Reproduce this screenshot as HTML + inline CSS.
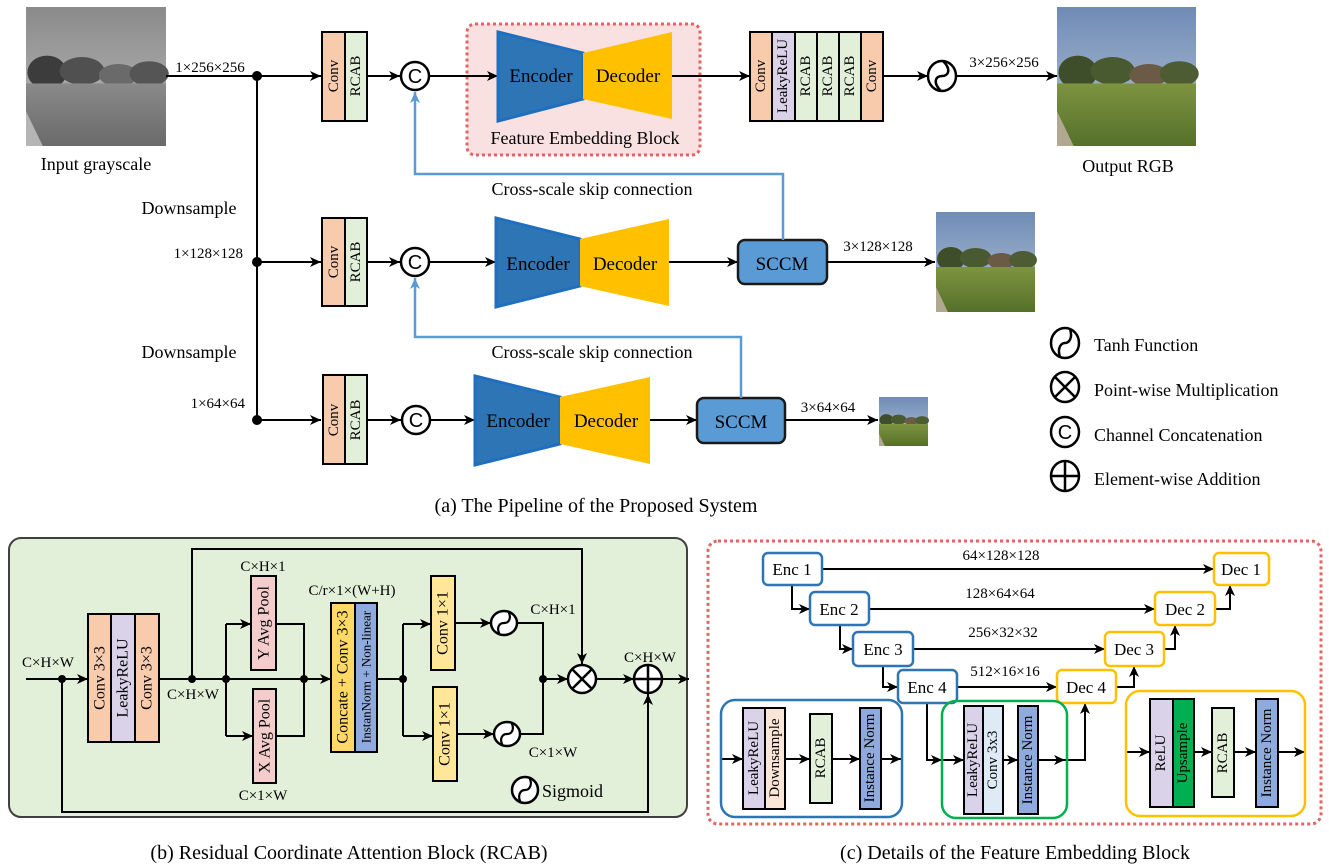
<!DOCTYPE html>
<html><head><meta charset="utf-8"><style>
body{margin:0;background:#fff}
svg{display:block}
text{font-family:"Liberation Serif",serif;fill:#000}
</style></head><body>
<svg width="1329" height="867" viewBox="0 0 1329 867" xmlns="http://www.w3.org/2000/svg">
<defs>
<marker id="a" markerUnits="userSpaceOnUse" markerWidth="12" markerHeight="12" refX="11" refY="6" orient="auto"><path d="M0,1 L11,6 L0,11 L3,6 z" fill="#000"/></marker>
<marker id="b" markerUnits="userSpaceOnUse" markerWidth="12" markerHeight="12" refX="11" refY="6" orient="auto"><path d="M0,1 L11,6 L0,11 L3,6 z" fill="#5b9bd5"/></marker>
<linearGradient id="sky" x1="0" y1="0" x2="0" y2="1"><stop offset="0" stop-color="#6f8bb5"/><stop offset="1" stop-color="#b9c7da"/></linearGradient>
<linearGradient id="field" x1="0" y1="0" x2="0" y2="1"><stop offset="0" stop-color="#7d9440"/><stop offset="1" stop-color="#55702a"/></linearGradient>
<linearGradient id="gsky" x1="0" y1="0" x2="0" y2="1"><stop offset="0" stop-color="#8a8a8a"/><stop offset="1" stop-color="#bdbdbd"/></linearGradient>
<linearGradient id="gfield" x1="0" y1="0" x2="0" y2="1"><stop offset="0" stop-color="#8a8a8a"/><stop offset="1" stop-color="#6a6a6a"/></linearGradient>
<g id="photo">
<rect x="0" y="0" width="100" height="100" fill="url(#sky)"/>
<ellipse cx="15" cy="47" rx="14" ry="12" fill="#3e4d2a"/>
<ellipse cx="40" cy="46" rx="16" ry="10" fill="#4a5a30"/>
<ellipse cx="66" cy="49" rx="14" ry="8" fill="#6b5a45"/>
<ellipse cx="88" cy="48" rx="14" ry="9" fill="#4d5c33"/>
<rect x="0" y="55" width="100" height="45" fill="url(#field)"/>
<path d="M0,75 L12,100 L0,100z" fill="#b0a890"/>
</g>
<g id="gphoto">
<rect x="0" y="0" width="100" height="100" fill="url(#gsky)"/>
<ellipse cx="15" cy="47" rx="14" ry="12" fill="#3c3c3c"/>
<ellipse cx="40" cy="46" rx="16" ry="10" fill="#505050"/>
<ellipse cx="66" cy="49" rx="14" ry="8" fill="#6a6a6a"/>
<ellipse cx="88" cy="48" rx="14" ry="9" fill="#555"/>
<rect x="0" y="55" width="100" height="45" fill="url(#gfield)"/>
<path d="M0,75 L12,100 L0,100z" fill="#b5b5b5"/>
</g>
</defs>

<!-- ===== (a) pipeline ===== -->
<use href="#gphoto" transform="translate(26,7) scale(1.40,1.39)"/>
<text x="96" y="170" font-size="18" text-anchor="middle">Input grayscale</text>
<text x="210" y="72" font-size="15" text-anchor="middle">1×256×256</text>
<line x1="166" y1="76" x2="321" y2="76" stroke="#000" stroke-width="2" marker-end="url(#a)"/>
<line x1="257" y1="76" x2="257" y2="420" stroke="#000" stroke-width="2"/>
<circle cx="257" cy="76" r="5"/><circle cx="257" cy="262" r="5"/><circle cx="257" cy="420" r="5"/>
<text x="189" y="214" font-size="18" text-anchor="middle">Downsample</text>
<text x="189" y="358" font-size="18" text-anchor="middle">Downsample</text>
<text x="243" y="258" font-size="15" text-anchor="end">1×128×128</text>
<text x="245" y="408" font-size="15" text-anchor="end">1×64×64</text>
<line x1="257" y1="262" x2="321" y2="262" stroke="#000" stroke-width="2" marker-end="url(#a)"/>
<line x1="257" y1="420" x2="321" y2="420" stroke="#000" stroke-width="2" marker-end="url(#a)"/>

<g font-size="15" stroke="#000" stroke-width="2">
<rect x="322" y="32" width="23" height="89" fill="#f8cbad"/><rect x="345" y="32" width="22" height="89" fill="#e2f0d9"/>
<rect x="322" y="218" width="23" height="88" fill="#f8cbad"/><rect x="345" y="218" width="22" height="88" fill="#e2f0d9"/>
<rect x="323" y="375" width="22" height="89" fill="#f8cbad"/><rect x="345" y="375" width="22" height="89" fill="#e2f0d9"/>
</g>
<g font-size="15" text-anchor="middle" dominant-baseline="central">
<text transform="translate(334,76) rotate(-90)">Conv</text><text transform="translate(356,76) rotate(-90)">RCAB</text>
<text transform="translate(334,262) rotate(-90)">Conv</text><text transform="translate(356,262) rotate(-90)">RCAB</text>
<text transform="translate(334,420) rotate(-90)">Conv</text><text transform="translate(356,420) rotate(-90)">RCAB</text>
</g>
<g stroke="#000" stroke-width="2">
<line x1="367" y1="76" x2="400" y2="76" marker-end="url(#a)"/>
<line x1="367" y1="262" x2="400" y2="262" marker-end="url(#a)"/>
<line x1="367" y1="420" x2="401" y2="420" marker-end="url(#a)"/>
<circle cx="415" cy="76" r="14" fill="#fff" stroke-width="2.5"/>
<circle cx="415" cy="262" r="14" fill="#fff" stroke-width="2.5"/>
<circle cx="416" cy="420" r="14" fill="#fff" stroke-width="2.5"/>
</g>
<g font-size="20" text-anchor="middle">
<text x="415" y="83" style="font-family:'Liberation Sans',sans-serif">C</text>
<text x="415" y="269" style="font-family:'Liberation Sans',sans-serif">C</text>
<text x="416" y="427" style="font-family:'Liberation Sans',sans-serif">C</text>
</g>

<rect x="467" y="24" width="233" height="131" rx="8" fill="#f9e0e1" stroke="#e06666" stroke-width="3" stroke-dasharray="3,3"/>
<line x1="429" y1="76" x2="498" y2="76" stroke="#000" stroke-width="2" marker-end="url(#a)"/>
<path d="M498,32 L583,53 L583,99 L498,121 Z" fill="#2e75b6" stroke="#1f6fc0" stroke-width="3"/>
<path d="M583,53 L672,32 L672,119 L583,99 Z" fill="#ffc000"/>
<text x="541" y="82" font-size="19" text-anchor="middle">Encoder</text>
<text x="628" y="82" font-size="19" text-anchor="middle">Decoder</text>
<text x="585" y="144" font-size="18" text-anchor="middle">Feature Embedding Block</text>
<line x1="672" y1="76" x2="750" y2="76" stroke="#000" stroke-width="2" marker-end="url(#a)"/>

<line x1="429" y1="262" x2="496" y2="262" stroke="#000" stroke-width="2" marker-end="url(#a)"/>
<path d="M496,218 L580,239 L580,286 L496,307 Z" fill="#2e75b6" stroke="#1f6fc0" stroke-width="3"/>
<path d="M580,239 L669,219 L669,306 L580,286 Z" fill="#ffc000"/>
<text x="538" y="270" font-size="19" text-anchor="middle">Encoder</text>
<text x="625" y="270" font-size="19" text-anchor="middle">Decoder</text>
<line x1="669" y1="262" x2="738" y2="262" stroke="#000" stroke-width="2" marker-end="url(#a)"/>

<line x1="430" y1="420" x2="475" y2="420" stroke="#000" stroke-width="2" marker-end="url(#a)"/>
<path d="M475,376 L560,397 L560,444 L475,465 Z" fill="#2e75b6" stroke="#1f6fc0" stroke-width="3"/>
<path d="M560,397 L650,377 L650,464 L560,444 Z" fill="#ffc000"/>
<text x="518" y="427" font-size="19" text-anchor="middle">Encoder</text>
<text x="606" y="427" font-size="19" text-anchor="middle">Decoder</text>
<line x1="650" y1="420" x2="697" y2="420" stroke="#000" stroke-width="2" marker-end="url(#a)"/>

<g stroke="#000" stroke-width="2">
<rect x="750" y="32" width="22" height="89" fill="#f8cbad"/>
<rect x="772" y="32" width="23" height="89" fill="#d9d2e9"/>
<rect x="795" y="32" width="22" height="89" fill="#e2f0d9"/>
<rect x="817" y="32" width="22" height="89" fill="#e2f0d9"/>
<rect x="839" y="32" width="22" height="89" fill="#e2f0d9"/>
<rect x="861" y="32" width="22" height="89" fill="#f8cbad"/>
</g>
<g font-size="15" text-anchor="middle" dominant-baseline="central">
<text transform="translate(761,76) rotate(-90)">Conv</text>
<text transform="translate(783,76) rotate(-90)">LeakyReLU</text>
<text transform="translate(806,76) rotate(-90)">RCAB</text>
<text transform="translate(828,76) rotate(-90)">RCAB</text>
<text transform="translate(850,76) rotate(-90)">RCAB</text>
<text transform="translate(872,76) rotate(-90)">Conv</text>
</g>
<line x1="883" y1="76" x2="928" y2="76" stroke="#000" stroke-width="2" marker-end="url(#a)"/>
<ellipse cx="942" cy="76" rx="14" ry="15" fill="#fff" stroke="#000" stroke-width="2.5"/>
<path d="M941,91 C932,82 936,76 942,76 C948,76 952,70 943,61" fill="none" stroke="#000" stroke-width="2.5"/>
<line x1="956" y1="76" x2="1057" y2="76" stroke="#000" stroke-width="2" marker-end="url(#a)"/>
<text x="1004" y="67" font-size="15" text-anchor="middle">3×256×256</text>
<use href="#photo" transform="translate(1057,7) scale(1.39,1.39)"/>
<text x="1128" y="172" font-size="18" text-anchor="middle">Output RGB</text>

<rect x="738" y="240" width="89" height="44" rx="7" fill="#5b9bd5" stroke="#1a1a1a" stroke-width="2.5"/>
<text x="782" y="270" font-size="19" text-anchor="middle">SCCM</text>
<line x1="827" y1="262" x2="935" y2="262" stroke="#000" stroke-width="2" marker-end="url(#a)"/>
<text x="878" y="251" font-size="15" text-anchor="middle">3×128×128</text>
<use href="#photo" transform="translate(936,212) scale(0.99,1.0)"/>
<rect x="697" y="398" width="88" height="45" rx="7" fill="#5b9bd5" stroke="#1a1a1a" stroke-width="2.5"/>
<text x="741" y="428" font-size="19" text-anchor="middle">SCCM</text>
<line x1="785" y1="420" x2="878" y2="420" stroke="#000" stroke-width="2" marker-end="url(#a)"/>
<text x="828" y="412" font-size="15" text-anchor="middle">3×64×64</text>
<use href="#photo" transform="translate(879,397) scale(0.49,0.49)"/>

<path d="M783,240 L783,174 L415,174 L415,92" fill="none" stroke="#5b9bd5" stroke-width="2.5" marker-end="url(#b)"/>
<path d="M741,398 L741,337 L415,337 L415,278" fill="none" stroke="#5b9bd5" stroke-width="2.5" marker-end="url(#b)"/>
<text x="592" y="195" font-size="18" text-anchor="middle">Cross-scale skip connection</text>
<text x="592" y="358" font-size="18" text-anchor="middle">Cross-scale skip connection</text>

<g stroke="#000" stroke-width="2.5" fill="#fff">
<ellipse cx="1065" cy="343" rx="14" ry="15"/>
<ellipse cx="1065" cy="387" rx="14" ry="15"/>
<ellipse cx="1065" cy="432" rx="14" ry="15"/>
<ellipse cx="1065" cy="476" rx="14" ry="15"/>
</g>
<path d="M1060,357 C1057,348 1061,343 1065,343 C1069,343 1073,338 1070,329" fill="none" stroke="#000" stroke-width="2.5"/>
<path d="M1055,377 L1075,397 M1075,377 L1055,397" stroke="#000" stroke-width="2.5"/>
<text x="1065" y="439" font-size="20" text-anchor="middle" style="font-family:'Liberation Sans',sans-serif">C</text>
<path d="M1051,476 L1079,476 M1065,461 L1065,491" stroke="#000" stroke-width="2.5"/>
<g font-size="18">
<text x="1094" y="351">Tanh Function</text>
<text x="1094" y="396">Point-wise Multiplication</text>
<text x="1094" y="441">Channel Concatenation</text>
<text x="1094" y="485">Element-wise Addition</text>
</g>
<text x="596" y="512" font-size="20" text-anchor="middle">(a) The Pipeline of the Proposed System</text>

<!-- ===== (b) RCAB ===== -->
<rect x="9" y="538" width="678" height="279" rx="12" fill="#e2efd9" stroke="#404040" stroke-width="2"/>
<g stroke="#000" stroke-width="2" fill="none">
<line x1="26" y1="679" x2="88" y2="679" marker-end="url(#a)"/>
<path d="M62,679 L62,812 L648,812 L648,694" marker-end="url(#a)"/>
<line x1="159" y1="679" x2="331" y2="679" marker-end="url(#a)"/>
<path d="M192,679 L192,549 L582,549 L582,664" marker-end="url(#a)"/>
<path d="M226,624 L226,736"/>
<line x1="226" y1="624" x2="251" y2="624" marker-end="url(#a)"/>
<line x1="226" y1="736" x2="253" y2="736" marker-end="url(#a)"/>
<path d="M276,624 L304,624 L304,736 L276,736"/>
<line x1="377" y1="679" x2="403" y2="679"/>
<path d="M403,624 L403,736"/>
<line x1="403" y1="624" x2="431" y2="624" marker-end="url(#a)"/>
<line x1="403" y1="736" x2="433" y2="736" marker-end="url(#a)"/>
<line x1="455" y1="623" x2="491" y2="623" marker-end="url(#a)"/>
<line x1="457" y1="734" x2="494" y2="734" marker-end="url(#a)"/>
<path d="M517,623 L543,623 L543,734 L520,734"/>
<line x1="543" y1="679" x2="568" y2="679" marker-end="url(#a)"/>
<line x1="596" y1="679" x2="634" y2="679" marker-end="url(#a)"/>
<line x1="662" y1="679" x2="689" y2="679" marker-end="url(#a)"/>
</g>
<g fill="#000"><circle cx="62" cy="679" r="4"/><circle cx="192" cy="679" r="4"/><circle cx="226" cy="679" r="4"/><circle cx="304" cy="679" r="4"/><circle cx="403" cy="679" r="4"/><circle cx="543" cy="679" r="4"/></g>
<g stroke="#000" stroke-width="2">
<rect x="88" y="614" width="23" height="128" fill="#f8cbad"/>
<rect x="111" y="614" width="24" height="128" fill="#d9d2e9"/>
<rect x="135" y="614" width="24" height="128" fill="#f8cbad"/>
<rect x="251" y="576" width="25" height="94" fill="#f4cccc"/>
<rect x="253" y="689" width="23" height="94" fill="#f4cccc"/>
<rect x="331" y="603" width="24" height="149" fill="#ffd966"/>
<rect x="355" y="603" width="22" height="149" fill="#8faadc"/>
<rect x="431" y="576" width="24" height="94" fill="#ffe699"/>
<rect x="433" y="687" width="24" height="94" fill="#ffe699"/>
</g>
<g font-size="16" text-anchor="middle" dominant-baseline="central">
<text transform="translate(100,678) rotate(-90)">Conv 3×3</text>
<text transform="translate(123,678) rotate(-90)">LeakyReLU</text>
<text transform="translate(147,678) rotate(-90)">Conv 3×3</text>
<text transform="translate(264,623) rotate(-90)">Y Avg Pool</text>
<text transform="translate(265,736) rotate(-90)">X Avg Pool</text>
<text transform="translate(343,677) rotate(-90)">Concate + Conv 3×3</text>
<text transform="translate(366,677) rotate(-90)" font-size="13">InstanNorm + Non-linear</text>
<text transform="translate(443,623) rotate(-90)">Conv 1×1</text>
<text transform="translate(445,734) rotate(-90)">Conv 1×1</text>
</g>
<g stroke="#000" stroke-width="2.5" fill="#fff">
<ellipse cx="504" cy="623" rx="13" ry="12"/>
<ellipse cx="507" cy="734" rx="13" ry="12"/>
<circle cx="582" cy="679" r="14"/>
<circle cx="648" cy="679" r="14"/>
<ellipse cx="525" cy="790" rx="13" ry="13"/>
</g>
<path d="M500,635 C496,628 499,623 504,623 C509,623 512,618 508,611" fill="none" stroke="#000" stroke-width="2.2"/>
<path d="M503,746 C499,739 502,734 507,734 C512,734 515,729 511,722" fill="none" stroke="#000" stroke-width="2.2"/>
<path d="M521,803 C517,796 520,790 525,790 C530,790 533,784 529,777" fill="none" stroke="#000" stroke-width="2.2"/>
<path d="M572,669 L592,689 M592,669 L572,689 M634,679 L662,679 M648,665 L648,693" stroke="#000" stroke-width="2.5"/>
<g font-size="15" text-anchor="middle">
<text x="48" y="667">C×H×W</text>
<text x="193" y="699">C×H×W</text>
<text x="263" y="571">C×H×1</text>
<text x="263" y="800">C×1×W</text>
<text x="352" y="595">C/r×1×(W+H)</text>
<text x="553" y="614">C×H×1</text>
<text x="553" y="757">C×1×W</text>
<text x="650" y="662">C×H×W</text>
</g>
<text x="542" y="797" font-size="18">Sigmoid</text>
<text x="349" y="859" font-size="20" text-anchor="middle">(b) Residual Coordinate Attention Block (RCAB)</text>

<!-- ===== (c) Feature embedding ===== -->
<rect x="708" y="541" width="613" height="283" rx="10" fill="none" stroke="#e06666" stroke-width="3" stroke-dasharray="3,3"/>
<g stroke="#000" stroke-width="2" fill="none">
<line x1="822" y1="569" x2="1214" y2="569" marker-end="url(#a)"/>
<line x1="869" y1="609" x2="1155" y2="609" marker-end="url(#a)"/>
<line x1="913" y1="649" x2="1105" y2="649" marker-end="url(#a)"/>
<line x1="957" y1="687" x2="1057" y2="687" marker-end="url(#a)"/>
<path d="M792,585 L792,609 L810,609" marker-end="url(#a)"/>
<path d="M840,625 L840,649 L853,649" marker-end="url(#a)"/>
<path d="M883,666 L883,687 L898,687" marker-end="url(#a)"/>
<path d="M1215,609 L1230,609 L1230,585" marker-end="url(#a)"/>
<path d="M1164,649 L1175,649 L1175,625" marker-end="url(#a)"/>
<path d="M1116,687 L1134,687 L1134,666" marker-end="url(#a)"/>
<path d="M927,703 L927,760 L942,760" marker-end="url(#a)"/>
<line x1="942" y1="760" x2="964" y2="760" marker-end="url(#a)"/>
<line x1="1003" y1="760" x2="1018" y2="760" marker-end="url(#a)"/>
<line x1="1038" y1="760" x2="1065" y2="760" marker-end="url(#a)"/>
<path d="M1065,760 L1085,760 L1085,703" marker-end="url(#a)"/>
<line x1="721" y1="759" x2="743" y2="759" marker-end="url(#a)"/>
<line x1="785" y1="759" x2="810" y2="759" marker-end="url(#a)"/>
<line x1="832" y1="759" x2="860" y2="759" marker-end="url(#a)"/>
<line x1="881" y1="759" x2="901" y2="759" marker-end="url(#a)"/>
<line x1="1127" y1="752" x2="1150" y2="752" marker-end="url(#a)"/>
<line x1="1194" y1="752" x2="1212" y2="752" marker-end="url(#a)"/>
<line x1="1234" y1="752" x2="1256" y2="752" marker-end="url(#a)"/>
<line x1="1278" y1="752" x2="1305" y2="752" marker-end="url(#a)"/>
</g>
<g stroke-width="2.5" fill="#fff">
<rect x="763" y="553" width="59" height="32" rx="5" stroke="#2e75b6"/>
<rect x="810" y="592" width="59" height="33" rx="5" stroke="#2e75b6"/>
<rect x="853" y="632" width="60" height="34" rx="5" stroke="#2e75b6"/>
<rect x="898" y="670" width="59" height="33" rx="5" stroke="#2e75b6"/>
<rect x="1214" y="553" width="55" height="32" rx="5" stroke="#ffc000"/>
<rect x="1155" y="592" width="60" height="33" rx="5" stroke="#ffc000"/>
<rect x="1105" y="632" width="59" height="34" rx="5" stroke="#ffc000"/>
<rect x="1057" y="670" width="59" height="33" rx="5" stroke="#ffc000"/>
</g>
<g font-size="17" text-anchor="middle">
<text x="792" y="575">Enc 1</text>
<text x="839" y="615">Enc 2</text>
<text x="883" y="655">Enc 3</text>
<text x="927" y="693">Enc 4</text>
<text x="1241" y="575">Dec 1</text>
<text x="1185" y="615">Dec 2</text>
<text x="1134" y="655">Dec 3</text>
<text x="1086" y="693">Dec 4</text>
</g>
<g font-size="15" text-anchor="middle">
<text x="1001" y="560">64×128×128</text>
<text x="1000" y="598">128×64×64</text>
<text x="1003" y="637">256×32×32</text>
<text x="1005" y="676">512×16×16</text>
</g>
<rect x="721" y="700" width="181" height="117" rx="14" fill="none" stroke="#2e75b6" stroke-width="2.5"/>
<rect x="942" y="701" width="125" height="117" rx="14" fill="none" stroke="#00b050" stroke-width="2.5"/>
<rect x="1126" y="691" width="179" height="125" rx="14" fill="none" stroke="#ffc000" stroke-width="2.5"/>
<g stroke="#000" stroke-width="2">
<rect x="743" y="708" width="22" height="101" fill="#d9d2e9"/>
<rect x="765" y="708" width="20" height="101" fill="#fbe5d6"/>
<rect x="810" y="714" width="22" height="89" fill="#e2f0d9"/>
<rect x="860" y="708" width="21" height="101" fill="#8faadc"/>
<rect x="964" y="706" width="19" height="108" fill="#d9d2e9"/>
<rect x="983" y="706" width="20" height="108" fill="#deebf7"/>
<rect x="1018" y="706" width="20" height="108" fill="#8faadc"/>
<rect x="1150" y="699" width="23" height="108" fill="#d9d2e9"/>
<rect x="1173" y="699" width="21" height="108" fill="#00b050"/>
<rect x="1212" y="708" width="22" height="89" fill="#e2f0d9"/>
<rect x="1256" y="699" width="22" height="108" fill="#8faadc"/>
</g>
<g font-size="15" text-anchor="middle" dominant-baseline="central">
<text transform="translate(754,758) rotate(-90)">LeakyReLU</text>
<text transform="translate(775,758) rotate(-90)">Downsample</text>
<text transform="translate(821,758) rotate(-90)">RCAB</text>
<text transform="translate(870,758) rotate(-90)">Instance Norm</text>
<text transform="translate(973,760) rotate(-90)">LeakyReLU</text>
<text transform="translate(993,760) rotate(-90)">Conv 3x3</text>
<text transform="translate(1028,760) rotate(-90)">Instance Norm</text>
<text transform="translate(1161,753) rotate(-90)">ReLU</text>
<text transform="translate(1183,753) rotate(-90)">Upsample</text>
<text transform="translate(1223,753) rotate(-90)">RCAB</text>
<text transform="translate(1267,753) rotate(-90)">Instance Norm</text>
</g>
<text x="1015" y="859" font-size="20" text-anchor="middle">(c) Details of the Feature Embedding Block</text>
</svg>
</body></html>
